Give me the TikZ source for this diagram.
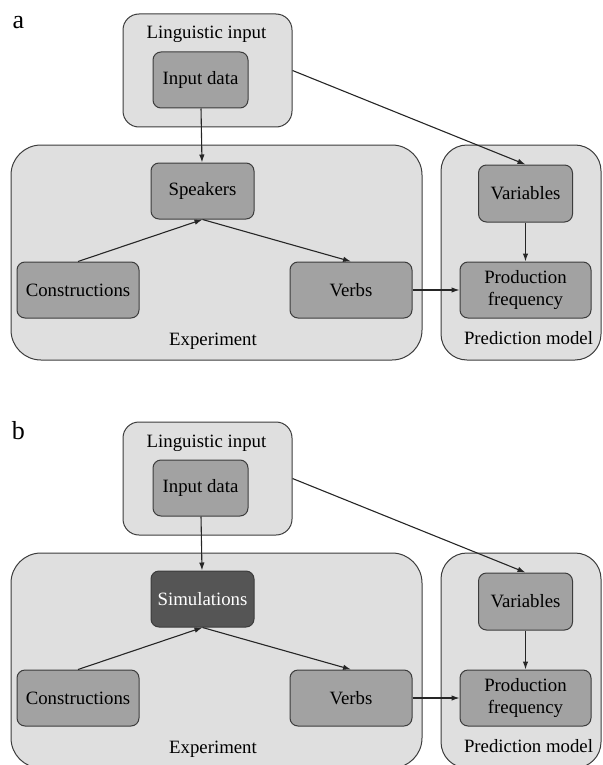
\documentclass[tikz,border=0pt]{standalone}
\usepackage{fontspec}
\setmainfont{Liberation Serif}
\usepackage{xcolor}
\usepackage{tikz}
\usetikzlibrary{arrows.meta}

\definecolor{outerfill}{HTML}{DFDFDF}
\definecolor{innerfill}{HTML}{A2A2A2}
\definecolor{darkfill}{HTML}{555555}
\definecolor{edgegray}{HTML}{3C3C3C}

\begin{document}
\begin{tikzpicture}[
                x=1pt,y=-1pt,
                every node/.style={font=\fontsize{18.8}{22.5}\selectfont},
                group/.style={draw=edgegray,fill=outerfill,line width=1pt,rectangle},
                inner/.style={draw=edgegray,fill=innerfill,line width=1pt,rectangle,rounded corners=8pt,align=center,minimum height=56pt},
                darkinner/.style={inner,fill=darkfill,text=white},
                title/.style={anchor=base,inner sep=0pt},
                connection/.style={-{Latex[length=8pt,width=5.5pt]},line width=1.1pt,black!85},
            ]

            \useasboundingbox (0,0) rectangle (602,765);

            \foreach \p/\dy/\mid/\st in {a/0/Speakers/inner, b/408/Simulations/darkinner} {
                % panel letter
                \node[font=\fontsize{26}{28}\selectfont] (letter\p) at (18.5,23+\dy) {\p};

                % group boxes
                \node[group,rounded corners=16pt,minimum width=169pt,minimum height=113pt] (ling\p) at (207.5,70.5+\dy) {};
                \node[group,rounded corners=30pt,minimum width=411pt,minimum height=215pt] (exp\p) at (216.5,252.5+\dy) {};
                \node[group,rounded corners=26pt,minimum width=160pt,minimum height=215pt] (pred\p) at (521,252.5+\dy) {};

                \node[title] (lingtitle\p) at (206.5,39+\dy) {Linguistic input};
                \node[title] (exptitle\p) at (213,345+\dy) {Experiment};
                \node[title] (predtitle\p) at (528.5,344+\dy) {Prediction model};

                % inner boxes
                \node[inner,minimum width=95pt] (inp\p) at (200.5,80+\dy) {Input data};
                \node[\st,minimum width=103pt] (mid\p) at (202.5,191+\dy) {\mid};
                \node[inner,minimum width=122pt] (con\p) at (78,290+\dy) {Constructions};
                \node[inner,minimum width=122pt] (verb\p) at (351,290+\dy) {Verbs};
                \node[inner,minimum width=94pt,minimum height=57pt] (var\p) at (525.5,193.5+\dy) {Variables};
                \node[inner,minimum width=131pt] (prod\p) at (525.5,290+\dy) {Production\\frequency};

                % connections
                \draw[connection] (inp\p) -- (mid\p);
                \draw[connection] (con\p.north) -- (mid\p.south);
                \draw[connection] (mid\p.south) -- (verb\p.north);
                \draw[connection] (verb\p) -- (prod\p);
                \draw[connection] (var\p) -- (prod\p);
                \draw[connection] (ling\p.east) -- (var\p.north);
            }
        \end{tikzpicture}
\end{document}
